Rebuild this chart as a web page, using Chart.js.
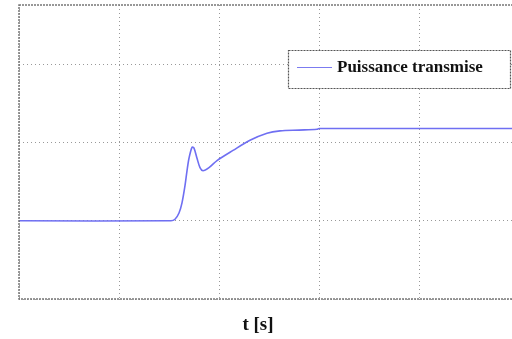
<!DOCTYPE html>
<html>
<head>
<meta charset="utf-8">
<script src="https://cdn.jsdelivr.net/npm/chart.js@4"></script>
<style>
  html, body { margin: 0; padding: 0; background: #fff; overflow: hidden; }
  #wrap { width: 520px; height: 339px; }
</style>
</head>
<body>
<div id="wrap"><canvas id="myChart"></canvas></div>
<script>
// time [s] and transmitted power (per-unit of grid step)
let times = [0, 1.52, 1.56, 1.60, 1.63, 1.66, 1.68, 1.70, 1.73, 1.75, 1.78, 1.81, 1.84, 1.90, 1.98, 2.14, 2.31, 2.48, 2.61, 2.80, 2.98, 3.00, 5.2];
let puissance = [1.0, 1.0, 1.02, 1.10, 1.23, 1.45, 1.64, 1.80, 1.94, 1.93, 1.80, 1.68, 1.64, 1.68, 1.77, 1.90, 2.03, 2.12, 2.15, 2.16, 2.17, 2.18, 2.18];
let legendText = 'Puissance transmise';
let axisTitle = 't [s]';

let points = times.map((t, i) => ({x: t, y: puissance[i]}));

//dotted frame around the plot, boxed legend and the time label
let framePlugin = {
    id: 'frame',
    afterDraw(chart) {
        let ctx = chart.ctx;
        let a = chart.chartArea;
        ctx.save();
        ctx.strokeStyle = '#777';
        ctx.lineWidth = 1.5;
        ctx.setLineDash([2, 1]);
        ctx.strokeRect(a.left, a.top, a.right - a.left, a.bottom - a.top);

        // legend box
        ctx.fillStyle = '#fff';
        ctx.fillRect(288, 50, 223, 39);
        ctx.strokeStyle = '#555';
        ctx.lineWidth = 1.2;
        ctx.setLineDash([2, 1]);
        ctx.strokeRect(288.5, 50.5, 222, 38);
        ctx.setLineDash([]);
        ctx.strokeStyle = '#7b7bf0';
        ctx.lineWidth = 1.2;
        ctx.beginPath();
        ctx.moveTo(297, 67.5);
        ctx.lineTo(332, 67.5);
        ctx.stroke();
        ctx.fillStyle = '#111';
        ctx.font = 'bold 17px "Liberation Serif"';
        ctx.textBaseline = 'middle';
        ctx.fillText(legendText, 337, 68);

        // x axis label
        ctx.font = 'bold 19px "Liberation Serif"';
        ctx.textAlign = 'center';
        ctx.fillText(axisTitle, 258, 325);
        ctx.restore();
    }
};

let gridStyle = {
    color: '#999',
    lineWidth: 1,
    drawTicks: false
};

let config = {
    type: 'line',
    data: {
        datasets: [{
            label: legendText,
            data: points,
            borderColor: '#6f6ff2',
            borderWidth: 1.6,
            pointRadius: 0,
            tension: 0.3,
            fill: false
        }]
    },
    options: {
        responsive: true,
        maintainAspectRatio: false,
        animation: false,
        layout: {
            padding: {left: 19, top: 5, right: 1, bottom: 40}
        },
        plugins: {
            legend: {display: false},
            tooltip: {enabled: false}
        },
        scales: {
            x: {
                type: 'linear',
                min: 0,
                max: 5,
                grid: gridStyle,
                border: {display: false, dash: [1, 3]},
                ticks: {display: false, stepSize: 1, includeBounds: false}
            },
            y: {
                min: 0,
                max: 3.76,
                grid: gridStyle,
                border: {display: false, dash: [1, 3]},
                ticks: {display: false, stepSize: 1, includeBounds: false}
            }
        }
    },
    plugins: [framePlugin]
};

let lineChart = new Chart(document.getElementById('myChart'), config);
</script>
</body>
</html>
